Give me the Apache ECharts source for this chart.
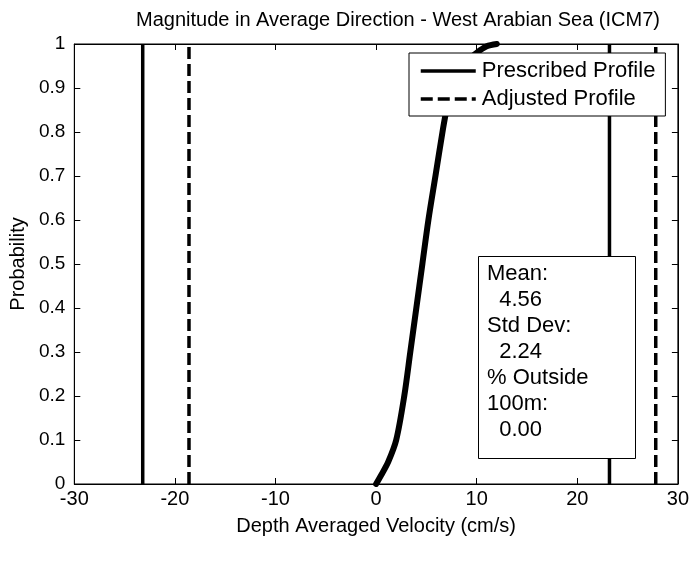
<!DOCTYPE html>
<html>
<head>
<meta charset="utf-8">
<script src="https://cdn.jsdelivr.net/npm/echarts@6/dist/echarts.min.js"></script>
<style>
  html, body { margin: 0; padding: 0; background: #fff; }
  #chart { width: 692px; height: 569px; }
</style>
</head>
<body>
<div id="chart"></div>
<script>
// Cumulative probability of depth-averaged velocity magnitude (cm/s)
const cdfVelocity = [0, 0.5, 1.2, 2.0, 2.8, 3.4, 4.0, 4.6, 5.2, 5.9, 6.6, 7.0, 7.6, 8.5, 10.0, 11.0, 12.0];
const cdfProbability = [0, 0.02, 0.05, 0.1, 0.2, 0.3, 0.4, 0.5, 0.6, 0.7, 0.8, 0.85, 0.9, 0.95, 0.98, 0.995, 1.0];

// Bounds of the prescribed and adjusted profiles (cm/s)
const prescribedBounds = [-23.2, 23.2];
const adjustedBounds = [-18.6, 27.8];

// Axis ticks
const xTicks = [-30, -20, -10, 0, 10, 20, 30];
const yTicks = [0, 0.1, 0.2, 0.3, 0.4, 0.5, 0.6, 0.7, 0.8, 0.9, 1];

// Summary statistics shown in the annotation box
const statLines = ['Mean:', '  4.56', 'Std Dev:', '  2.24', '% Outside', '100m:', '  0.00'];

const FONT = '"Liberation Sans", Arial, Helvetica, sans-serif';

const chart = echarts.init(document.getElementById('chart'), null, { renderer: 'canvas' });

function boundSeries(name, values, dashed) {
  return values.map(v => ({
    name: name,
    type: 'line',
    data: [[v, 0], [v, 1]],
    symbol: 'none',
    silent: true,
    z: 3,
    itemStyle: { color: '#000' },
    lineStyle: { color: '#000', width: 3.5, type: dashed ? [12, 5] : 'solid' }
  }));
}

const axisCommon = {
  type: 'value',
  axisLine: { show: true, onZero: false, lineStyle: { color: '#000', width: 1 } },
  axisTick: { show: true, inside: true, length: 6, lineStyle: { color: '#000' } },
  splitLine: { show: false }
};

const option = {
  backgroundColor: '#fff',
  animation: false,
  title: {
    text: 'Magnitude in Average Direction - West Arabian Sea (ICM7)',
    left: 131,
    top: 5,
    textStyle: { fontFamily: FONT, fontSize: 20, fontWeight: 'normal', color: '#000' }
  },
  grid: { left: 72, right: 14, top: 44, bottom: 85, show: true, borderColor: '#000', borderWidth: 1, backgroundColor: 'transparent' },
  legend: {
    data: ['Prescribed Profile', 'Adjusted Profile'],
    orient: 'vertical',
    left: 409,
    top: 53,
    width: 256,
    padding: [7, 10, 6, 10],
    itemGap: 6,
    itemWidth: 55,
    itemHeight: 20,
    backgroundColor: '#fff',
    borderColor: '#000',
    borderWidth: 1,
    itemStyle: { opacity: 0 },
    lineStyle: { width: 3.5 },
    textStyle: { fontFamily: FONT, fontSize: 22, color: '#000', padding: [0, 0, 0, 1] }
  },
  xAxis: [
    Object.assign({}, axisCommon, {
      min: xTicks[0], max: xTicks[xTicks.length - 1], interval: 10,
      name: 'Depth Averaged Velocity (cm/s)',
      nameLocation: 'middle',
      nameGap: 32,
      nameTextStyle: { fontFamily: FONT, fontSize: 20, color: '#000' },
      axisLabel: { fontFamily: FONT, fontSize: 20, color: '#000', margin: 5 }
    }),
    Object.assign({}, axisCommon, {
      position: 'top',
      min: xTicks[0], max: xTicks[xTicks.length - 1], interval: 10,
      axisLabel: { show: false }
    })
  ],
  yAxis: [
    Object.assign({}, axisCommon, {
      min: yTicks[0], max: yTicks[yTicks.length - 1], interval: 0.1,
      name: 'Probability',
      nameLocation: 'middle',
      nameGap: 44,
      nameRotate: 90,
      nameTextStyle: { fontFamily: FONT, fontSize: 20, color: '#000' },
      axisLabel: { fontFamily: FONT, fontSize: 19, color: '#000', margin: 9, formatter: v => String(+v.toFixed(1)) }
    }),
    Object.assign({}, axisCommon, {
      position: 'right',
      min: yTicks[0], max: yTicks[yTicks.length - 1], interval: 0.1,
      axisLabel: { show: false }
    })
  ],
  series: [
    ...boundSeries('Prescribed Profile', prescribedBounds, false),
    ...boundSeries('Adjusted Profile', adjustedBounds, true),
    {
      name: 'Velocity CDF',
      type: 'line',
      data: cdfVelocity.map((v, i) => [v, cdfProbability[i]]),
      symbol: 'none',
      smooth: 0.3,
      z: 2,
      itemStyle: { color: '#000' },
      lineStyle: { color: '#000', width: 6, cap: 'round', join: 'round' }
    }
  ],
  graphic: [
    {
      type: 'rect',
      left: 478, top: 256,
      shape: { width: 157, height: 202 },
      style: { fill: '#fff', stroke: '#000', lineWidth: 1 },
      z: 10
    },
    {
      type: 'text',
      left: 487, top: 261,
      style: {
        text: statLines.join('\n'),
        fontFamily: FONT, fontSize: 22, lineHeight: 26, fill: '#000'
      },
      z: 11
    }
  ]
};

chart.setOption(option);
</script>
</body>
</html>
